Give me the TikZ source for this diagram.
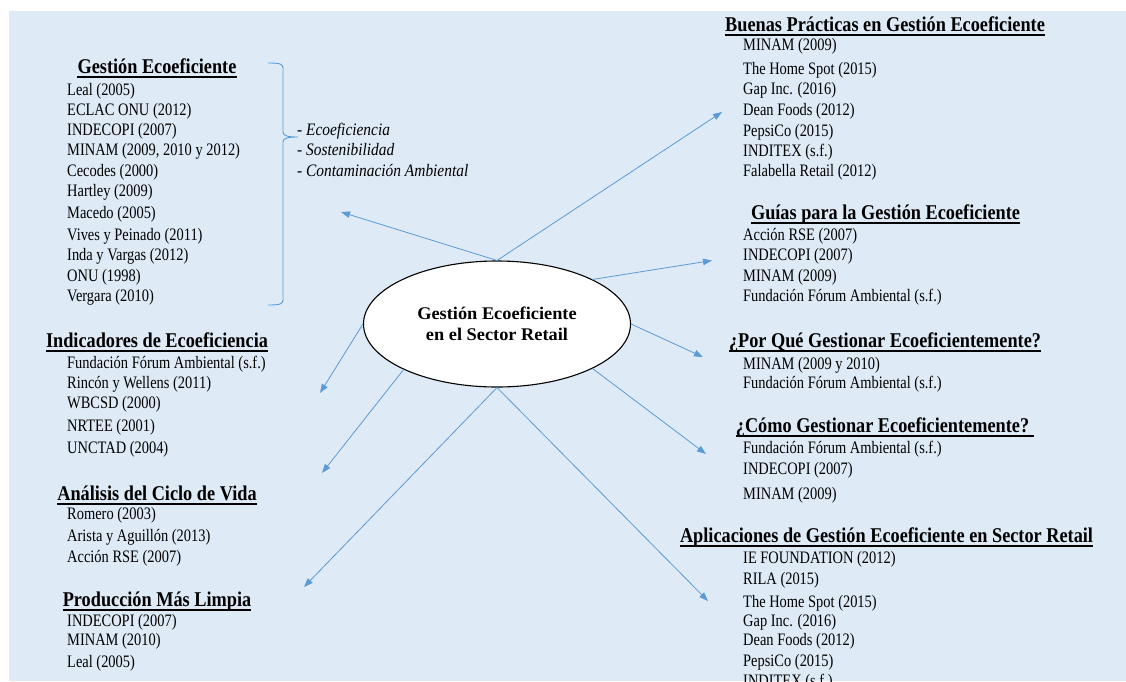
\documentclass[tikz,border=0pt]{standalone}
\usepackage{fontspec}
\setmainfont[FakeStretch=0.825]{Liberation Serif}
\newfontfamily\hdrfont[FakeStretch=0.87]{Liberation Serif}
\newfontfamily\kwfont[FakeStretch=0.88]{Liberation Serif}
\newfontfamily\ellfont[FakeStretch=1.03]{Liberation Serif}
\usetikzlibrary{arrows.meta,shapes.geometric}
\definecolor{bgblue}{HTML}{DEEAF6}
\definecolor{arrblue}{HTML}{5B9BD5}
\tikzset{
  itm/.style={anchor=base west, inner sep=0pt, text=black, font=\fontsize{17.5}{20}\selectfont},
  hdr/.style={anchor=base, inner sep=0pt, text=black, font=\hdrfont\fontsize{21}{25}\selectfont\bfseries},
  uline/.style={line width=1.6pt, black},
  kw/.style={anchor=base west, inner sep=0pt, text=black, font=\kwfont\fontsize{17.5}{21}\selectfont\itshape},
  conn/.style={draw=arrblue, line width=0.8pt, -{Triangle[length=9pt,width=6.5pt]}},
  bracestyle/.style={draw=arrblue, line width=0.9pt},
  hub/.style={ellipse, draw=black, line width=1.1pt, fill=white, minimum width=267pt, minimum height=126pt, inner sep=0pt, align=center, font=\ellfont\fontsize{17.8}{21}\selectfont\bfseries}
}
\begin{document}
\begin{tikzpicture}[x=1pt, y=-1pt]
\useasboundingbox (0,0) rectangle (1126,681);
\clip (0,0) rectangle (1126,681);
\fill[bgblue] (9,11) rectangle (1126,681);

% headers
\node[hdr] (hG) at (157,73) {Gestión Ecoeficiente};
\node[hdr] (hI) at (157,347) {Indicadores de Ecoeficiencia};
\node[hdr] (hA) at (157,500) {Análisis del Ciclo de Vida};
\node[hdr] (hP) at (157,606) {Producción Más Limpia};
\node[hdr] (hB) at (885,31) {Buenas Prácticas en Gestión Ecoeficiente};
\node[hdr] (hGu) at (885.5,219) {Guías para la Gestión Ecoeficiente};
\node[hdr] (hPQ) at (885,347) {¿Por Qué Gestionar Ecoeficientemente?};
\node[hdr] (hC) at (882.5,432) {¿Cómo Gestionar Ecoeficientemente?};
\node[hdr] (hAp) at (886.5,542) {Aplicaciones de Gestión Ecoeficiente en Sector Retail};
\foreach \h in {hG,hI,hA,hP,hB,hGu,hPQ,hAp}
  \draw[uline] ([yshift=-4pt]\h.base west) -- ([yshift=-4pt]\h.base east);
\draw[uline] ([yshift=-4pt]hC.base west) -- ([yshift=-4pt,xshift=5pt]hC.base east);

% left lists
\foreach \y/\t [count=\i] in {95/Leal (2005), 115/ECLAC ONU (2012), 135/INDECOPI (2007),
  155/{MINAM (2009, 2010 y 2012)}, 176/Cecodes (2000), 196/Hartley (2009), 218/Macedo (2005),
  240/Vives y Peinado (2011), 260/Inda y Vargas (2012), 281/ONU (1998), 301/Vergara (2010)}
  \node[itm] (ga\i) at (67,\y) {\t};
\foreach \y/\t [count=\i] in {368/Fundación Fórum Ambiental (s.f.), 388/Rincón y Wellens (2011),
  408/WBCSD (2000), 431/NRTEE (2001), 453/UNCTAD (2004)}
  \node[itm] (ia\i) at (67,\y) {\t};
\foreach \y/\t [count=\i] in {519/Romero (2003), 541/Arista y Aguillón (2013), 562/Acción RSE (2007)}
  \node[itm] (aa\i) at (67,\y) {\t};
\foreach \y/\t [count=\i] in {626/INDECOPI (2007), 645/MINAM (2010), 667/Leal (2005)}
  \node[itm] (pa\i) at (67,\y) {\t};

% right lists
\foreach \y/\t [count=\i] in {50/MINAM (2009), 74/The Home Spot (2015), 94/Gap Inc. (2016),
  115/Dean Foods (2012), 136/PepsiCo (2015), 156/INDITEX (s.f.), 176/Falabella Retail (2012)}
  \node[itm] (ba\i) at (743,\y) {\t};
\foreach \y/\t [count=\i] in {240/Acción RSE (2007), 260/INDECOPI (2007), 281/MINAM (2009),
  301/Fundación Fórum Ambiental (s.f.)}
  \node[itm] (gu\i) at (743,\y) {\t};
\foreach \y/\t [count=\i] in {369/MINAM (2009 y 2010), 388/Fundación Fórum Ambiental (s.f.)}
  \node[itm] (pq\i) at (743,\y) {\t};
\foreach \y/\t [count=\i] in {453/Fundación Fórum Ambiental (s.f.), 474/INDECOPI (2007), 499/MINAM (2009)}
  \node[itm] (co\i) at (743,\y) {\t};
\foreach \y/\t [count=\i] in {563/IE FOUNDATION (2012), 584/RILA (2015), 607/The Home Spot (2015),
  626/Gap Inc. (2016), 645/Dean Foods (2012), 666/PepsiCo (2015), 686/INDITEX (s.f.)}
  \node[itm] (ap\i) at (743,\y) {\t};

% keywords
\node[kw] (k1) at (297,135) {- Ecoeficiencia};
\node[kw] (k2) at (297,155) {- Sostenibilidad};
\node[kw] (k3) at (297,176) {- Contaminación Ambiental};

% brace
\draw[bracestyle] (268,63) .. controls (280,63) and (283,64) .. (283,68) -- (283,132)
  .. controls (283,136) and (288,137) .. (298,137)
  .. controls (288,137) and (283,138) .. (283,142) -- (283,300)
  .. controls (283,304) and (280,305) .. (268,305);

% hub
\node[hub] (ell) at (497,324) {Gestión Ecoeficiente\\en el Sector Retail};

% arrow tips
\coordinate (t1) at (341,212);
\coordinate (t2) at (722,112);
\coordinate (t3) at (712,260.5);
\coordinate (t4) at (703,357);
\coordinate (t5) at (706,454);
\coordinate (t6) at (708,601);
\coordinate (t7) at (304,587);
\coordinate (t8) at (322,473);
\coordinate (t9) at (320,393);

\draw[conn] (ell.north) -- (t1);
\draw[conn] (ell.north) -- (t2);
\draw[conn] (ell.25.6) -- (t3);
\draw[conn] (ell.east) -- (t4);
\draw[conn] (ell.-25.3) -- (t5);
\draw[conn] (ell.south) -- (t6);
\draw[conn] (ell.south) -- (t7);
\draw[conn] (ell.-154.2) -- (t8);
\draw[conn] (ell.west) -- (t9);
\end{tikzpicture}
\end{document}
